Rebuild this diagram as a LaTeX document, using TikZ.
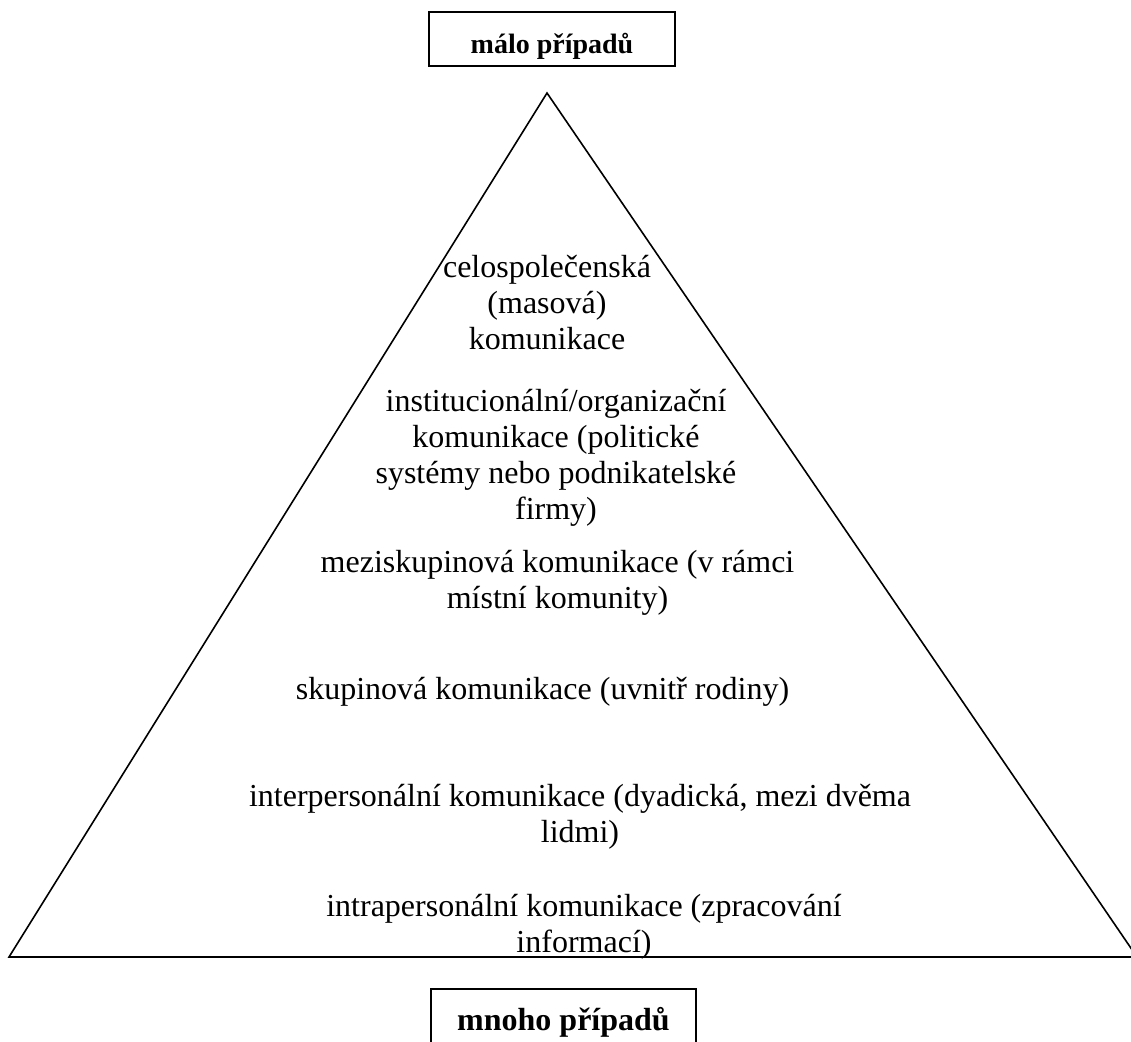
\documentclass[tikz,border=0pt]{standalone}
\usepackage{fontspec}
\setmainfont{Liberation Serif}
\begin{document}
\begin{tikzpicture}[x=1pt,y=-1pt,
  lbl/.style={anchor=base, inner sep=0pt, font=\fontsize{32}{36}\selectfont},
  hdr/.style={draw, line width=2pt, inner sep=0pt, anchor=center}]
\useasboundingbox (0,0) rectangle (1131,1041);
\clip (0,0) rectangle (1131,1041);
% pyramid
\coordinate (apex) at (547,93);
\coordinate (bl) at (9,957);
\coordinate (br) at (1137,957);
\draw[line width=1.6pt, line join=miter] (apex) -- (bl) -- (br) -- cycle;
% header boxes
\node[hdr, font=\bfseries\fontsize{28}{32}\selectfont, minimum width=246pt,
      text height=41pt, text depth=13pt] (few) at (552,39) {málo případů};
\node[hdr, font=\bfseries\fontsize{32}{36}\selectfont, minimum width=265pt,
      text height=41pt, text depth=30pt] (many) at (563.5,1024.5) {mnoho případů};
% level 1
\node[lbl] (p1a) at (547,277) {celospolečenská};
\node[lbl] (p1b) at (547,313) {(masová)};
\node[lbl] (p1c) at (547,349) {komunikace};
% level 2
\node[lbl] (p2a) at (556,411) {institucionální/organizační};
\node[lbl] (p2b) at (556,447) {komunikace (politické};
\node[lbl] (p2c) at (556,483) {systémy nebo podnikatelské};
\node[lbl] (p2d) at (556,519) {firmy)};
% level 3
\node[lbl] (p3a) at (557.5,572) {meziskupinová komunikace (v rámci};
\node[lbl] (p3b) at (557.5,608) {místní komunity)};
% level 4
\node[lbl] (p4a) at (542.5,699) {skupinová komunikace (uvnitř rodiny)};
% level 5
\node[lbl] (p5a) at (580,806) {interpersonální komunikace (dyadická, mezi dvěma};
\node[lbl] (p5b) at (580,842) {lidmi)};
% level 6
\node[lbl] (p6a) at (584,916) {intrapersonální komunikace (zpracování};
\node[lbl] (p6b) at (584,952) {informací)};
\end{tikzpicture}
\end{document}
